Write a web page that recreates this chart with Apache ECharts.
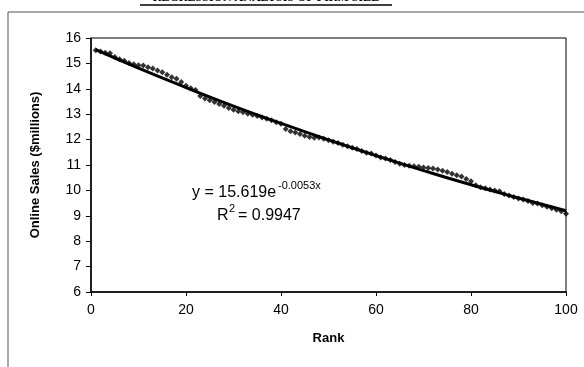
<!DOCTYPE html>
<html>
<head>
<meta charset="utf-8">
<script src="https://cdn.jsdelivr.net/npm/echarts@6/dist/echarts.min.js"></script>
<style>
  html, body {margin: 0; padding: 0; background: #fff;}
  #chart {width: 584px; height: 367px;}
</style>
</head>
<body>
<div id="chart"></div>
<script>
// online sales ($millions) by rank 1..100
const ranks = Array.from({length: 100}, (_, i) => i + 1);
const sales = [
  15.52, 15.47, 15.42, 15.40, 15.25, 15.16, 15.10, 15.02, 14.97, 14.93,
  14.92, 14.85, 14.80, 14.72, 14.65, 14.55, 14.45, 14.40, 14.27, 14.12,
  14.02, 13.95, 13.72, 13.62, 13.55, 13.48, 13.40, 13.33, 13.24, 13.18,
  13.12, 13.08, 13.02, 12.98, 12.93, 12.87, 12.82, 12.76, 12.68, 12.62,
  12.42, 12.33, 12.28, 12.22, 12.15, 12.10, 12.07, 12.08, 12.03, 11.97,
  11.92, 11.87, 11.80, 11.74, 11.68, 11.63, 11.55, 11.48, 11.45, 11.37,
  11.30, 11.26, 11.20, 11.12, 11.05, 11.00, 10.97, 10.95, 10.93, 10.90,
  10.88, 10.86, 10.82, 10.77, 10.72, 10.66, 10.60, 10.55, 10.45, 10.36,
  10.20, 10.12, 10.08, 10.04, 10.00, 9.97, 9.86, 9.80, 9.74, 9.68,
  9.64, 9.58, 9.50, 9.48, 9.42, 9.36, 9.30, 9.24, 9.18, 9.08
];
// exponential trend line, sampled every 10 ranks
const trendRanks = [1, 10, 20, 30, 40, 50, 60, 70, 80, 90, 100];
const trendSales = [15.54, 14.81, 14.05, 13.32, 12.64, 11.99, 11.37, 10.78, 10.22, 9.70, 9.20];
const xTicks = [0, 20, 40, 60, 80, 100];
const yTicks = [6, 7, 8, 9, 10, 11, 12, 13, 14, 15, 16];

const font = '"Liberation Sans", Arial, sans-serif';
const chart = echarts.init(document.getElementById('chart'));

chart.setOption({
  backgroundColor: '#fff',
  animation: false,
  grid: {
    left: 91, right: 18, top: 38, bottom: 75,
    show: true, borderColor: '#000', borderWidth: 1, backgroundColor: '#fff'
  },
  xAxis: {
    type: 'value',
    min: xTicks[0], max: xTicks[xTicks.length - 1], interval: 20,
    name: 'Rank', nameLocation: 'middle', nameGap: 40,
    nameTextStyle: {fontFamily: font, fontSize: 13, fontWeight: 'bold', color: '#000'},
    axisLine: {lineStyle: {color: '#000', width: 1.5}},
    axisTick: {length: 4, lineStyle: {color: '#000'}},
    axisLabel: {fontFamily: font, fontSize: 14, color: '#000', margin: 11},
    splitLine: {show: false}
  },
  yAxis: {
    type: 'value',
    min: yTicks[0], max: yTicks[yTicks.length - 1], interval: 1,
    name: 'Online Sales ($millions)', nameLocation: 'middle', nameGap: 49,
    nameTextStyle: {fontFamily: font, fontSize: 13, fontWeight: 'bold', color: '#000'},
    axisLine: {show: true, lineStyle: {color: '#000', width: 1.5}},
    axisTick: {show: true, length: 5, lineStyle: {color: '#000'}},
    axisLabel: {fontFamily: font, fontSize: 14, color: '#000', margin: 10},
    splitLine: {show: false}
  },
  series: [
    {
      name: 'trend',
      type: 'line',
      data: trendRanks.map((r, i) => [r, trendSales[i]]),
      smooth: true,
      symbol: 'none',
      lineStyle: {color: '#000', width: 3},
      z: 2
    },
    {
      name: 'sales',
      type: 'scatter',
      data: ranks.map((r, i) => [r, sales[i]]),
      symbol: 'diamond',
      symbolSize: 6,
      itemStyle: {color: '#000'},
      z: 3
    }
  ],
  graphic: [
    // scanned page frame
    {type: 'line', shape: {x1: 8, y1: 12, x2: 584, y2: 12}, style: {stroke: '#555', lineWidth: 1}},
    {type: 'line', shape: {x1: 8, y1: 12, x2: 8, y2: 367}, style: {stroke: '#555', lineWidth: 1}},
    // title, cut off at the top of the scan
    {
      type: 'text', x: 266, y: -8,
      style: {
        text: 'REGRESSION ANALYSIS OF FIRM SIZE', align: 'center', verticalAlign: 'top',
        font: 'bold 12px "Liberation Serif", serif', fill: '#000'
      }
    },
    {type: 'line', shape: {x1: 140, y1: 5, x2: 392, y2: 5}, style: {stroke: '#000', lineWidth: 1.5}},
    // trend line equation
    {
      type: 'text', x: 192, y: 193,
      style: {text: 'y = 15.619e', font: '16px "Liberation Sans", Arial, sans-serif', fill: '#000', verticalAlign: 'middle'}
    },
    {
      type: 'text', x: 278, y: 186,
      style: {text: '-0.0053x', font: '11px "Liberation Sans", Arial, sans-serif', fill: '#000', verticalAlign: 'middle'}
    },
    {
      type: 'text', x: 217, y: 216,
      style: {text: 'R', font: '16px "Liberation Sans", Arial, sans-serif', fill: '#000', verticalAlign: 'middle'}
    },
    {
      type: 'text', x: 229, y: 209,
      style: {text: '2', font: '11px "Liberation Sans", Arial, sans-serif', fill: '#000', verticalAlign: 'middle'}
    },
    {
      type: 'text', x: 238, y: 216,
      style: {text: '= 0.9947', font: '16px "Liberation Sans", Arial, sans-serif', fill: '#000', verticalAlign: 'middle'}
    }
  ]
});
</script>
</body>
</html>
